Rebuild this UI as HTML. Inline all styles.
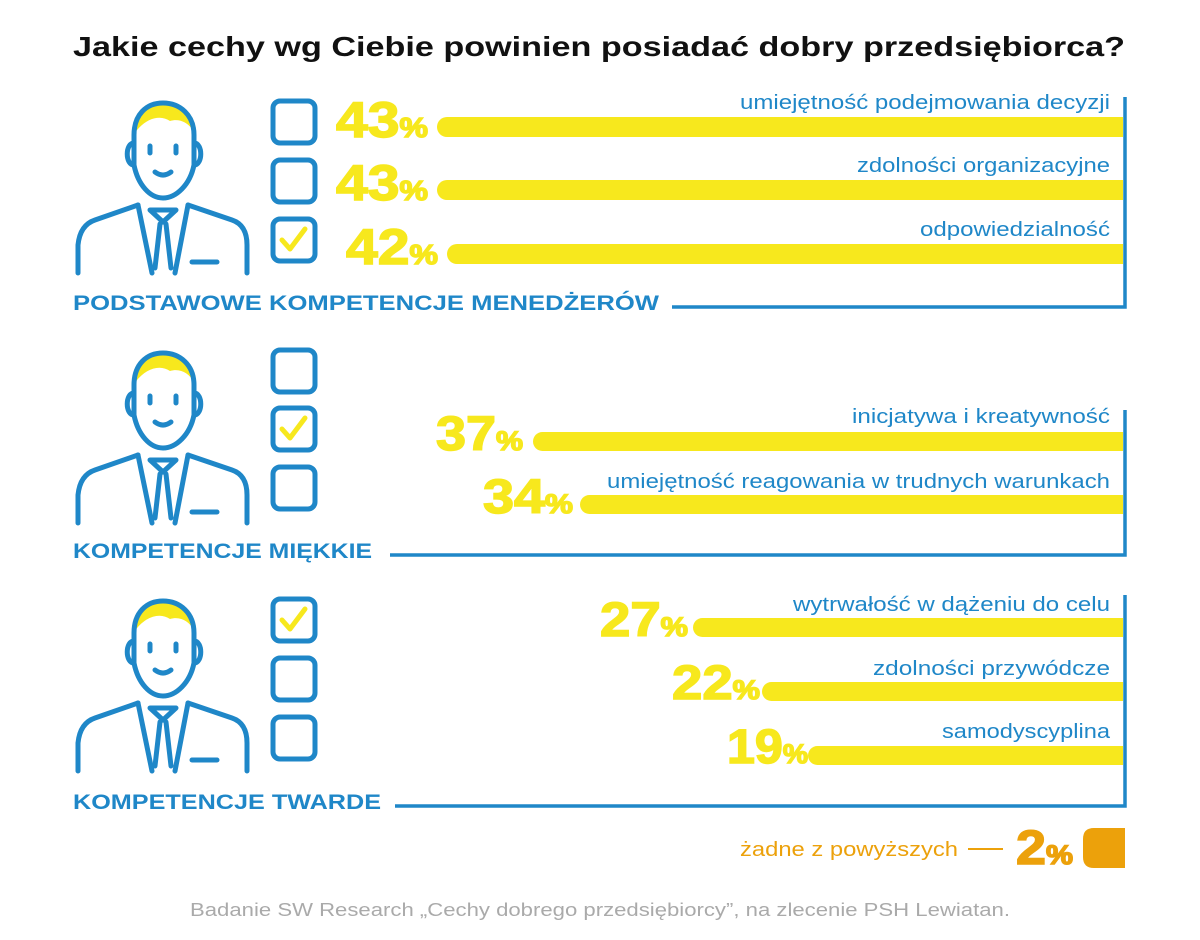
<!DOCTYPE html>
<html><head><meta charset="utf-8"><style>
html,body{margin:0;padding:0;background:#fff}
svg{display:block}
text{font-family:"Liberation Sans",sans-serif}
</style></head><body>
<svg width="1200" height="940" viewBox="0 0 1200 940" xmlns="http://www.w3.org/2000/svg">
<defs>
<g id="person" fill="none" stroke="#1f87c8" stroke-width="5" stroke-linecap="round" stroke-linejoin="round">
 <path d="M134,134 C134,112 148,103 163,103 C178,103 194,112 194,132 C189,123 180,118 170,121 C160,114 145,118 134,134 Z" fill="#f7e81d" stroke="none"/>
 <path d="M134,135 L134,165 C138,185 150,198 163,198 C176,198 190,185 194,165 L194,135 C194,115 180,103 163,103 C146,103 134,115 134,135 Z"/>
 <path d="M134,143 C125,143 125,165 134,165 M194,143 C203,143 203,165 194,165"/>
 <path d="M150,146 L150,153 M176,146 L176,153"/>
 <path d="M155,172 Q163,178 171,172"/>
 <path d="M138,205 L95,220 Q80,225 78,245 L78,273 M188,205 L232,220 Q247,225 247,245 L247,273"/>
 <path d="M138,205 L152,273 M188,205 L175,273"/>
 <path d="M150,210 L176,210 L163,222 Z M160,224 L155,268 M166,224 L171,268"/>
 <path d="M192,262 L217,262"/>
</g>
<g id="box"><rect x="0" y="0" width="42" height="42" rx="7" fill="none" stroke="#1f87c8" stroke-width="5"/></g>
<g id="chk"><path d="M9,21 L17,30 L32,10" fill="none" stroke="#f7e81d" stroke-width="5" stroke-linecap="round" stroke-linejoin="round"/></g>
</defs>

<text x="73" y="56" font-size="28" font-weight="bold" fill="#111" textLength="1052" lengthAdjust="spacingAndGlyphs">Jakie cechy wg Ciebie powinien posiadać dobry przedsiębiorca?</text>

<use href="#person"/>
<use href="#person" y="250"/>
<use href="#person" y="498"/>

<g transform="translate(273,101)"><use href="#box"/></g>
<g transform="translate(273,160)"><use href="#box"/></g>
<g transform="translate(273,219)"><use href="#box"/><use href="#chk"/></g>
<g transform="translate(273,350)"><use href="#box"/></g>
<g transform="translate(273,408)"><use href="#box"/><use href="#chk"/></g>
<g transform="translate(273,467)"><use href="#box"/></g>
<g transform="translate(273,599)"><use href="#box"/><use href="#chk"/></g>
<g transform="translate(273,658)"><use href="#box"/></g>
<g transform="translate(273,717)"><use href="#box"/></g>

<g fill="none" stroke="#1f87c8" stroke-width="3.5">
 <path d="M672,307 L1125,307 L1125,97"/>
 <path d="M390,555 L1125,555 L1125,410"/>
 <path d="M395,806 L1125,806 L1125,595"/>
</g>

<g fill="#f7e81d">
 <rect x="437" y="117" width="686" height="20" rx="10"/><rect x="1110" y="117" width="13" height="20"/>
 <rect x="437" y="180" width="686" height="20" rx="10"/><rect x="1110" y="180" width="13" height="20"/>
 <rect x="447" y="244" width="676" height="20" rx="10"/><rect x="1110" y="244" width="13" height="20"/>
 <rect x="533" y="432" width="590" height="19" rx="9.5"/><rect x="1110" y="432" width="13" height="19"/>
 <rect x="580" y="495" width="543" height="19" rx="9.5"/><rect x="1110" y="495" width="13" height="19"/>
 <rect x="693" y="618" width="430" height="19" rx="9.5"/><rect x="1110" y="618" width="13" height="19"/>
 <rect x="762" y="682" width="361" height="19" rx="9.5"/><rect x="1110" y="682" width="13" height="19"/>
 <rect x="808" y="746" width="315" height="19" rx="9.5"/><rect x="1110" y="746" width="13" height="19"/>
</g>

<g fill="#f7e81d" font-weight="bold" stroke="#f7e81d" stroke-width="1.5">
 <text x="336" y="137" font-size="50" textLength="92" lengthAdjust="spacingAndGlyphs">43<tspan font-size="28">%</tspan></text>
 <text x="336" y="200" font-size="50" textLength="92" lengthAdjust="spacingAndGlyphs">43<tspan font-size="28">%</tspan></text>
 <text x="346" y="264" font-size="50" textLength="92" lengthAdjust="spacingAndGlyphs">42<tspan font-size="28">%</tspan></text>
 <text x="436" y="450" font-size="48" textLength="87" lengthAdjust="spacingAndGlyphs">37<tspan font-size="27">%</tspan></text>
 <text x="483" y="513" font-size="48" textLength="90" lengthAdjust="spacingAndGlyphs">34<tspan font-size="27">%</tspan></text>
 <text x="600" y="636" font-size="48" textLength="88" lengthAdjust="spacingAndGlyphs">27<tspan font-size="27">%</tspan></text>
 <text x="672" y="699" font-size="48" textLength="88" lengthAdjust="spacingAndGlyphs">22<tspan font-size="27">%</tspan></text>
 <text x="727" y="763" font-size="48" textLength="81" lengthAdjust="spacingAndGlyphs">19<tspan font-size="27">%</tspan></text>
</g>

<g fill="#1f87c8" font-size="20">
 <text x="740" y="109" textLength="370" lengthAdjust="spacingAndGlyphs">umiejętność podejmowania decyzji</text>
 <text x="857" y="172" textLength="253" lengthAdjust="spacingAndGlyphs">zdolności organizacyjne</text>
 <text x="920" y="236" textLength="190" lengthAdjust="spacingAndGlyphs">odpowiedzialność</text>
 <text x="852" y="423" textLength="258" lengthAdjust="spacingAndGlyphs">inicjatywa i kreatywność</text>
 <text x="607" y="488" textLength="503" lengthAdjust="spacingAndGlyphs">umiejętność reagowania w trudnych warunkach</text>
 <text x="793" y="611" textLength="317" lengthAdjust="spacingAndGlyphs">wytrwałość w dążeniu do celu</text>
 <text x="873" y="675" textLength="237" lengthAdjust="spacingAndGlyphs">zdolności przywódcze</text>
 <text x="942" y="738" textLength="168" lengthAdjust="spacingAndGlyphs">samodyscyplina</text>
</g>

<g fill="#1f87c8" font-size="21" font-weight="bold">
 <text x="73" y="310" textLength="586" lengthAdjust="spacingAndGlyphs">PODSTAWOWE KOMPETENCJE MENEDŻERÓW</text>
 <text x="73" y="558" textLength="299" lengthAdjust="spacingAndGlyphs">KOMPETENCJE MIĘKKIE</text>
 <text x="73" y="809" textLength="308" lengthAdjust="spacingAndGlyphs">KOMPETENCJE TWARDE</text>
</g>

<text x="740" y="856" font-size="20" fill="#eca10b" textLength="218" lengthAdjust="spacingAndGlyphs">żadne z powyższych</text>
<line x1="968" y1="849" x2="1003" y2="849" stroke="#eca10b" stroke-width="2"/>
<text x="1016" y="864" font-size="48" font-weight="bold" fill="#eca10b" stroke="#eca10b" stroke-width="1.5" textLength="57" lengthAdjust="spacingAndGlyphs">2<tspan font-size="27">%</tspan></text>
<path d="M1094,828 L1125,828 L1125,868 L1094,868 Q1083,868 1083,857 L1083,839 Q1083,828 1094,828 Z" fill="#eca10b"/>

<text x="190" y="916" font-size="18" fill="#aaaaaa" textLength="820" lengthAdjust="spacingAndGlyphs">Badanie SW Research „Cechy dobrego przedsiębiorcy”, na zlecenie PSH Lewiatan.</text>
</svg>
</body></html>
